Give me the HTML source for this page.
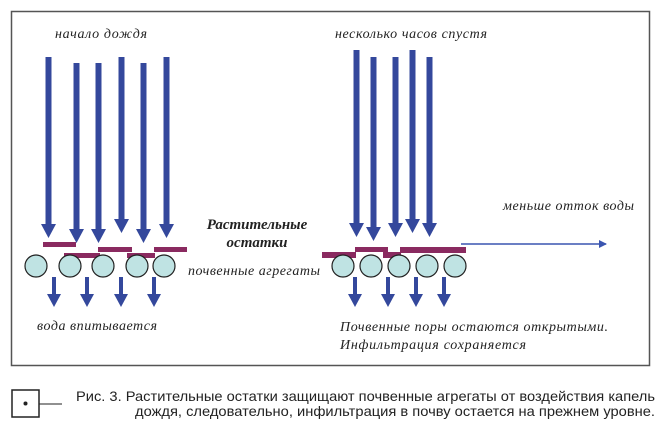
<!DOCTYPE html>
<html><head><meta charset="utf-8"><style>
html,body{margin:0;padding:0;background:#fff;width:670px;height:431px;overflow:hidden}
</style></head><body>
<svg width="670" height="431" viewBox="0 0 670 431" xmlns="http://www.w3.org/2000/svg">
<defs>
<marker id="ah" markerWidth="8" markerHeight="8" refX="7" refY="4" orient="auto" markerUnits="userSpaceOnUse"><path d="M0,0 L8,4 L0,8 Z" fill="#3a55b0"/></marker>
</defs>
<rect x="11.5" y="11.5" width="638" height="354" fill="#fff" stroke="#555" stroke-width="1.5"/>
<g font-family="Liberation Serif, serif" font-style="italic" fill="#222">
<text x="55" y="38" font-size="14" textLength="92">начало дождя</text>
<text x="335" y="38" font-size="14" textLength="152">несколько часов спустя</text>
<text x="503" y="210" font-size="14" textLength="131">меньше отток воды</text>
<text x="188" y="275" font-size="14" textLength="132">почвенные агрегаты</text>
<text x="37" y="330" font-size="14" textLength="120">вода впитывается</text>
<text x="340" y="331" font-size="14" textLength="268">Почвенные поры остаются открытыми.</text>
<text x="340" y="349" font-size="14" textLength="186">Инфильтрация сохраняется</text>
<text x="257" y="229" font-size="15" font-weight="bold" text-anchor="middle">Растительные</text>
<text x="257" y="247" font-size="15" font-weight="bold" text-anchor="middle">остатки</text>
</g>
<g fill="#34489c">
<rect x="45.5" y="57" width="6" height="168"/><polygon points="41,224 56,224 48.5,238"/>
<rect x="73.5" y="63" width="6" height="166"/><polygon points="69,229 84,229 76.5,243"/>
<rect x="95.5" y="63" width="6" height="166"/><polygon points="91,229 106,229 98.5,243"/>
<rect x="118.5" y="57" width="6" height="162"/><polygon points="114,219 129,219 121.5,233"/>
<rect x="140.5" y="63" width="6" height="166"/><polygon points="136,229 151,229 143.5,243"/>
<rect x="163.5" y="57" width="6" height="167"/><polygon points="159,224 174,224 166.5,238"/>
<rect x="353.5" y="50" width="6" height="173"/><polygon points="349,223 364,223 356.5,237"/>
<rect x="370.5" y="57" width="6" height="170"/><polygon points="366,227 381,227 373.5,241"/>
<rect x="392.5" y="57" width="6" height="166"/><polygon points="388,223 403,223 395.5,237"/>
<rect x="409.5" y="50" width="6" height="169"/><polygon points="405,219 420,219 412.5,233"/>
<rect x="426.5" y="57" width="6" height="166"/><polygon points="422,223 437,223 429.5,237"/>
<rect x="52" y="277" width="4" height="18"/><polygon points="47,294 61,294 54,307"/>
<rect x="85" y="277" width="4" height="18"/><polygon points="80,294 94,294 87,307"/>
<rect x="119" y="277" width="4" height="18"/><polygon points="114,294 128,294 121,307"/>
<rect x="152" y="277" width="4" height="18"/><polygon points="147,294 161,294 154,307"/>
<rect x="353" y="277" width="4" height="18"/><polygon points="348,294 362,294 355,307"/>
<rect x="386" y="277" width="4" height="18"/><polygon points="381,294 395,294 388,307"/>
<rect x="414" y="277" width="4" height="18"/><polygon points="409,294 423,294 416,307"/>
<rect x="442" y="277" width="4" height="18"/><polygon points="437,294 451,294 444,307"/>
</g>
<g fill="#8a2a60">
<rect x="43" y="242" width="33" height="5"/>
<rect x="64" y="253" width="36" height="5"/>
<rect x="98" y="247" width="34" height="5"/>
<rect x="127" y="253" width="28" height="5"/>
<rect x="154" y="247" width="33" height="5"/>
<rect x="322" y="252" width="34" height="6"/>
<rect x="355" y="247" width="33" height="5"/>
<rect x="383" y="252" width="18" height="6"/>
<rect x="400" y="247" width="66" height="6"/>
</g>
<line x1="461" y1="244" x2="606" y2="244" stroke="#3a55b0" stroke-width="1.6" marker-end="url(#ah)"/>
<g fill="#bfe3e3" stroke="#222" stroke-width="1.2">
<circle cx="36" cy="266" r="11"/><circle cx="70" cy="266" r="11"/><circle cx="103" cy="266" r="11"/><circle cx="137" cy="266" r="11"/><circle cx="164" cy="266" r="11"/>
<circle cx="343" cy="266" r="11"/><circle cx="371" cy="266" r="11"/><circle cx="399" cy="266" r="11"/><circle cx="427" cy="266" r="11"/><circle cx="455" cy="266" r="11"/>
</g>
<rect x="12" y="390" width="27" height="27" fill="#fff" stroke="#222" stroke-width="1.5"/>
<circle cx="25.5" cy="403.5" r="2" fill="#222"/>
<line x1="39" y1="404" x2="62" y2="404" stroke="#222" stroke-width="1"/>
<g font-family="Liberation Sans, sans-serif" font-size="14" fill="#222">
<text x="76" y="401" textLength="579" lengthAdjust="spacingAndGlyphs">Рис. 3. Растительные остатки защищают почвенные агрегаты от воздействия капель</text>
<text x="655" y="416" text-anchor="end" textLength="520" lengthAdjust="spacingAndGlyphs">дождя, следовательно, инфильтрация в почву остается на прежнем уровне.</text>
</g>
</svg>
</body></html>
